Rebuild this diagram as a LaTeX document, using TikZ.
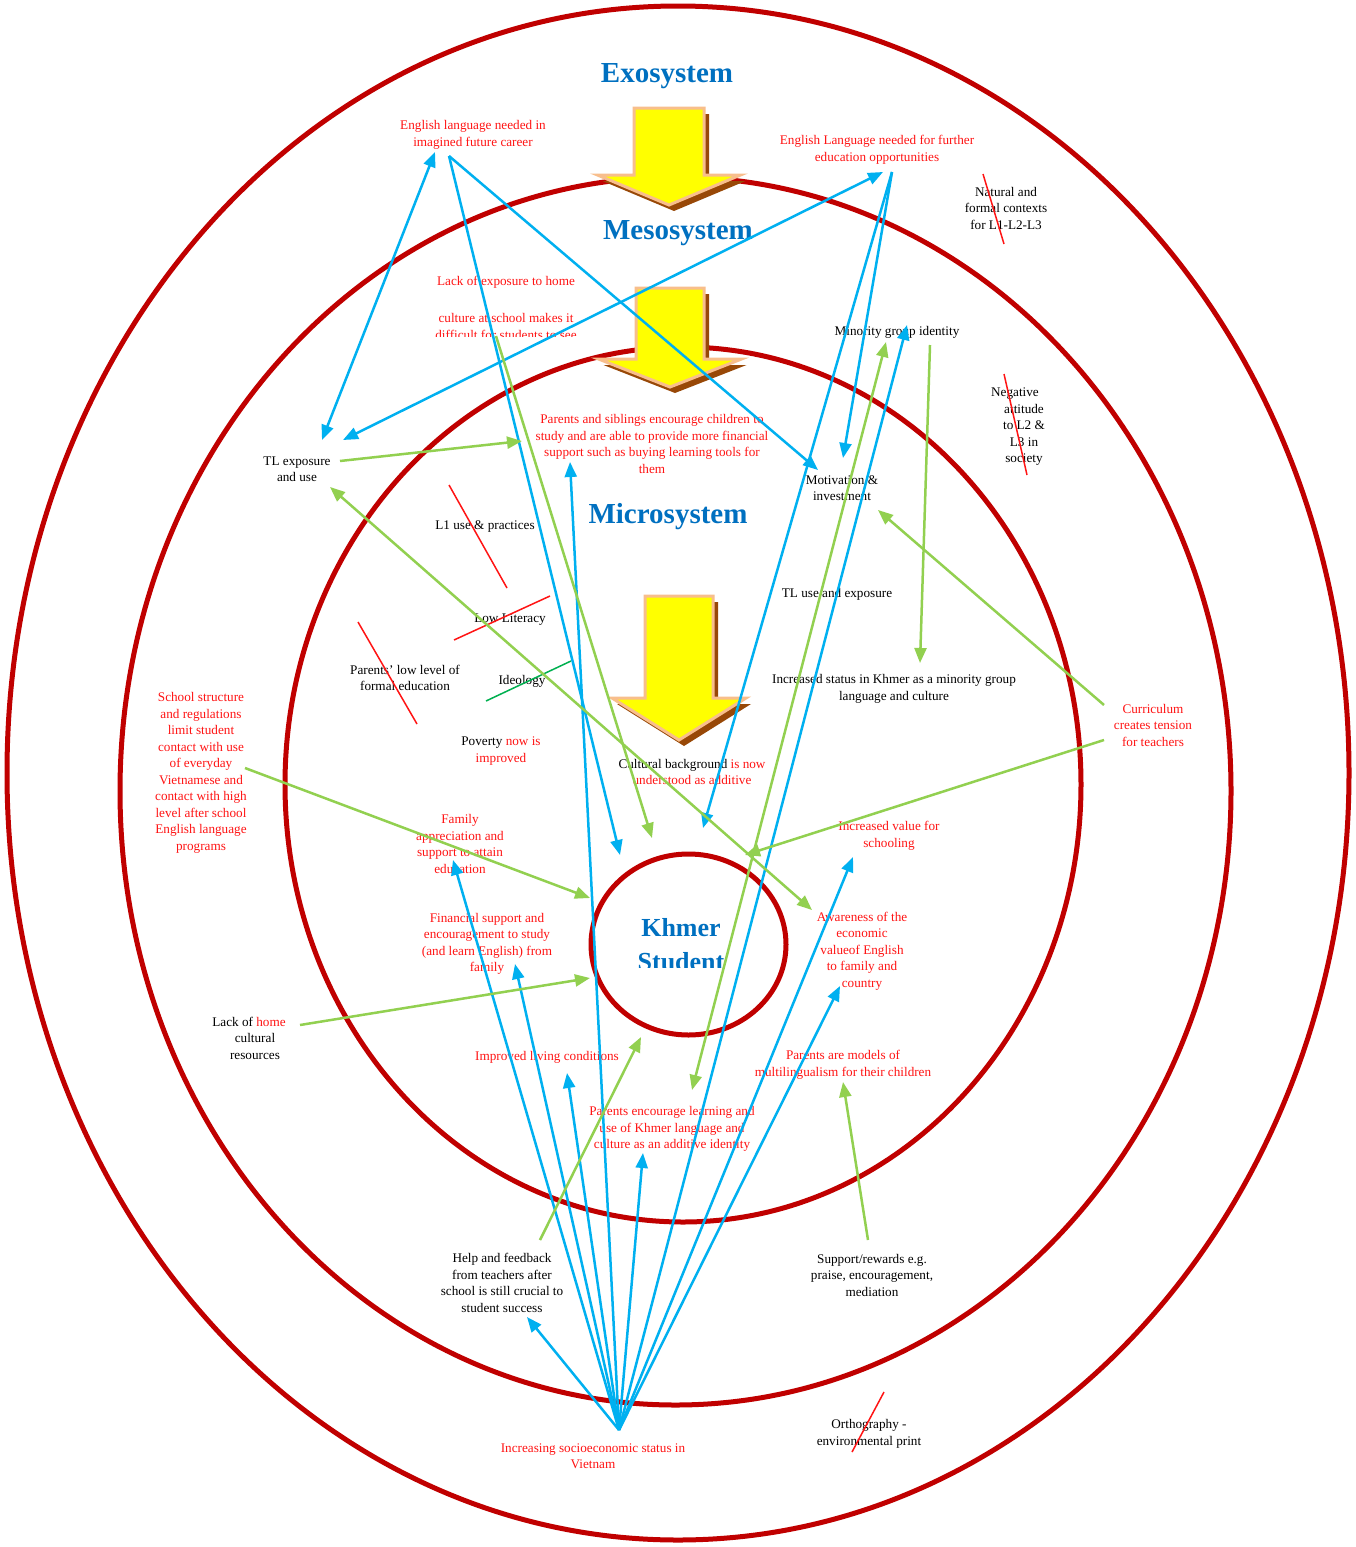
\documentclass[tikz,border=0pt]{standalone}
\usepackage{fontspec}
\setmainfont{Liberation Serif}
\usetikzlibrary{arrows.meta}

\definecolor{ringred}{RGB}{192,0,0}
\definecolor{titleblue}{RGB}{0,112,192}
\definecolor{linkblue}{RGB}{0,176,240}
\definecolor{linkgreen}{RGB}{146,208,80}
\definecolor{strikegreen}{RGB}{0,176,80}
\definecolor{txtred}{RGB}{255,20,20}
\definecolor{arrowfill}{RGB}{255,255,0}
\definecolor{arrowedge}{RGB}{248,190,140}
\definecolor{arrowshade}{RGB}{152,72,7}

\tikzset{
  ring/.style={draw=ringred, line width=5pt},
  title/.style={font=\fontsize{29}{32}\selectfont\bfseries, text=titleblue, inner sep=0pt},
  lbl/.style={font=\fontsize{13.2}{16.5}\selectfont, align=center, inner sep=0pt},
  redlbl/.style={lbl, text=txtred},
  blk/.style={lbl, text=black},
  tip/.style={-{Triangle[length=15pt,width=12pt]}},
  twotip/.style={{Triangle[length=15pt,width=12pt]}-{Triangle[length=15pt,width=12pt]}},
  bluelink/.style={draw=linkblue, line width=2.5pt, tip},
  bluetwo/.style={draw=linkblue, line width=2.5pt, twotip},
  greenlink/.style={draw=linkgreen, line width=2.5pt, tip},
  greentwo/.style={draw=linkgreen, line width=2.5pt, twotip},
  strike/.style={draw=txtred, line width=1.5pt},
  % block arrow: #1 shaft half width, #2 shaft length, #3 head half width, #4 head length
  pics/bigarrow/.style n args={4}{code={
    \fill[arrowshade] ([shift={(5,6)}]-#1,0) -- ([shift={(5,6)}]#1,0) -- ([shift={(5,6)}]#1,#2)
      -- ([shift={(5,6)}]#3,#2) -- ([shift={(5,6)}]0,#2+#4) -- ([shift={(5,6)}]-#3,#2)
      -- ([shift={(5,6)}]-#1,#2) -- cycle;
    \draw[arrowedge, line width=3pt, fill=arrowfill, line join=miter]
      (-#1,0) -- (#1,0) -- (#1,#2) -- (#3,#2) -- (0,#2+#4) -- (-#3,#2) -- (-#1,#2) -- cycle;
  }}
}

\begin{document}
\begin{tikzpicture}[x=1pt, y=-1pt]
\useasboundingbox[fill=white] (0,0) rectangle (1356,1547);

% nested system rings
\draw[ring] (678,773) ellipse [x radius=671, y radius=767];
\draw[ring] (675.5,791) ellipse [x radius=555.5, y radius=614];
\draw[ring] (683,784.5) ellipse [x radius=398, y radius=437.5];
\draw[ring] (688.5,944.5) ellipse [x radius=97.5, y radius=90.5];

% downward block arrows between the levels
\pic at (669,108) {bigarrow={35}{67}{71.5}{30}};
\pic at (670,288) {bigarrow={34}{71}{71.5}{28}};
\pic at (679,596) {bigarrow={34}{102}{67}{42}};

% level titles
\node[title] (exo) at (667,76) {Exosystem};
\node[title] (meso) at (678,233) {Mesosystem};
\node[title] (micro) at (668,517) {Microsystem};
\begin{scope}
  \clip (560,880) rectangle (820,967);
  \node[title, font=\fontsize{26}{34}\selectfont\bfseries, align=center] (student) at (681,945) {Khmer\\Student};
\end{scope}

% exosystem labels
\node[redlbl] (career) at (473,135) {English language needed in\\imagined future career};
\node[redlbl] (further) at (877,150) {English Language needed for further\\education opportunities};
\node[blk] (natural) at (1006,208) {Natural and\\formal contexts\\for L1-L2-L3};
\node[redlbl] (school) at (201,773) {School structure\\and regulations\\limit student\\contact with use\\of everyday\\Vietnamese and\\contact with high\\level after school\\English language\\programs};
\node[blk] (ortho) at (869,1434) {Orthography -\\environmental print};
\node[redlbl] (ses) at (593,1456) {Increasing socioeconomic status in\\Vietnam};

% mesosystem labels
\begin{scope}
  \clip (400,260) rectangle (620,336);
  \node[redlbl, anchor=north] (lackexp) at (506,276) {Lack of exposure to home\\[21pt]culture at school makes it\\difficult for students to see};
\end{scope}
\node[blk] (minority) at (897,332) {Minority group identity};
\node[blk] (negative) at (1024,427) {\mbox{Negative\hspace{18pt}}\\attitude\\to L2 \&\\L3 in\\society};
\node[blk] (tlexp) at (297,469) {TL exposure\\and use};
\node[redlbl] (curric) at (1153,725) {Curriculum\\creates tension\\for teachers};
\node[blk] (lackhome) at (255,1038) {\mbox{Lack of {\color{txtred}home}\hspace{12pt}}\\cultural\\resources};
\node[blk] (help) at (502,1283) {Help and feedback\\from teachers after\\school is still crucial to\\student success};
\node[blk] (support) at (872,1275) {Support/rewards e.g.\\praise, encouragement,\\mediation};

% microsystem labels
\node[redlbl] (siblings) at (652,444) {Parents and siblings encourage children to\\study and are able to provide more financial\\support such as buying learning tools for\\them};
\node[blk] (motiv) at (842,488) {Motivation \&\\investment};
\node[blk] (l1use) at (485,527) {L1 use \& practices};
\node[blk] (tluse) at (837,594) {TL use and exposure};
\node[blk] (literacy) at (510,620) {Low Literacy};
\node[blk] (parentsedu) at (405,678) {Parents' low level of\\formal education};
\node[blk] (ideology) at (522,681) {Ideology};
\node[blk] (status) at (894,689) {Increased status in Khmer as a minority group\\language and culture};
\node[blk] (poverty) at (501,751) {Poverty {\color{txtred}now is}\\{\color{txtred}improved}};
\node[blk] (cultural) at (692,772) {Cultural background {\color{txtred}is now}\\{\color{txtred}understood as additive}};
\node[redlbl] (family) at (460,844) {Family\\appreciation and\\support to attain\\education};
\node[redlbl] (value) at (889,836) {Increased value for\\schooling};
\node[redlbl] (aware) at (862,951) {Awareness of the\\economic\\valueof English\\to family and\\country};
\node[redlbl] (financial) at (487,944) {Financial support and\\encouragement to study\\(and learn English) from\\family};
\node[redlbl] (living) at (547,1057) {Improved living conditions};
\node[redlbl] (models) at (843,1065) {Parents are models of\\multilingualism for their children};
\node[redlbl] (additive) at (672,1129) {Parents encourage learning and\\use of Khmer language and\\culture as an additive identity};

% struck-out factors
\draw[strike] (983,174) -- (1004,244);
\draw[strike] (1004,374) -- (1027,475);
\draw[strike] (449,485) -- (507,588);
\draw[strike] (454,640) -- (550,596);
\draw[strike] (358,622) -- (417,724);
\draw[strike, draw=strikegreen] (486,701) -- (571,661);
\draw[strike] (884,1392) -- (852,1452);

% connector end points
\coordinate (careerA) at (435,152);
\coordinate (careerB) at (449,156);
\coordinate (tlA) at (322,440);
\coordinate (tlB) at (343,440);
\coordinate (tlC) at (340,461);
\coordinate (tlD) at (330,487);
\coordinate (furtherA) at (883,172);
\coordinate (furtherB) at (892,172);
\coordinate (motivA) at (818,470);
\coordinate (motivB) at (843,458);
\coordinate (motivC) at (878,510);
\coordinate (studentNW) at (620,855);
\coordinate (studentNE) at (703,828);
\coordinate (studentN) at (652,838);
\coordinate (studentNE2) at (745,855);
\coordinate (studentW) at (590,898);
\coordinate (studentW2) at (590,978);
\coordinate (studentS) at (641,1037);
\coordinate (hub) at (619,1430);
\coordinate (familyS) at (453,860);
\coordinate (financialS) at (515,964);
\coordinate (livingS) at (567,1073);
\coordinate (siblingsS) at (570,462);
\coordinate (siblingsW) at (522,441);
\coordinate (additiveS) at (643,1153);
\coordinate (additiveN) at (692,1090);
\coordinate (minorityS) at (907,325);
\coordinate (minorityW) at (886,342);
\coordinate (minorityE) at (930,345);
\coordinate (valueS) at (853,857);
\coordinate (awareS) at (840,986);
\coordinate (awareN) at (812,910);
\coordinate (helpN) at (527,1317);
\coordinate (helpTop) at (540,1240);
\coordinate (lackexpS) at (496,336);
\coordinate (statusN) at (920,663);
\coordinate (curricA) at (1104,705);
\coordinate (curricB) at (1104,740);
\coordinate (schoolE) at (245,768);
\coordinate (lackhomeE) at (300,1025);
\coordinate (supportN) at (868,1240);
\coordinate (modelsS) at (843,1082);

% blue influences
\draw[bluetwo] (careerA) -- (tlA);
\draw[bluelink] (careerB) -- (studentNW);
\draw[bluelink] (careerB) -- (motivA);
\draw[bluetwo] (furtherA) -- (tlB);
\draw[bluelink] (furtherB) -- (motivB);
\draw[bluelink] (furtherB) -- (studentNE);
\draw[bluelink] (hub) -- (familyS);
\draw[bluelink] (hub) -- (financialS);
\draw[bluelink] (hub) -- (livingS);
\draw[bluelink] (hub) -- (siblingsS);
\draw[bluelink] (hub) -- (additiveS);
\draw[bluelink] (hub) -- (minorityS);
\draw[bluelink] (hub) -- (valueS);
\draw[bluelink] (hub) -- (awareS);
\draw[bluelink] (hub) -- (helpN);

% green influences
\draw[greenlink] (tlC) -- (siblingsW);
\draw[greenlink] (lackexpS) -- (studentN);
\draw[greenlink] (minorityE) -- (statusN);
\draw[greenlink] (curricA) -- (motivC);
\draw[greenlink] (curricB) -- (studentNE2);
\draw[greentwo] (tlD) -- (awareN);
\draw[greenlink] (schoolE) -- (studentW);
\draw[greenlink] (lackhomeE) -- (studentW2);
\draw[greenlink] (helpTop) -- (studentS);
\draw[greentwo] (minorityW) -- (additiveN);
\draw[greenlink] (supportN) -- (modelsS);
\end{tikzpicture}
\end{document}
